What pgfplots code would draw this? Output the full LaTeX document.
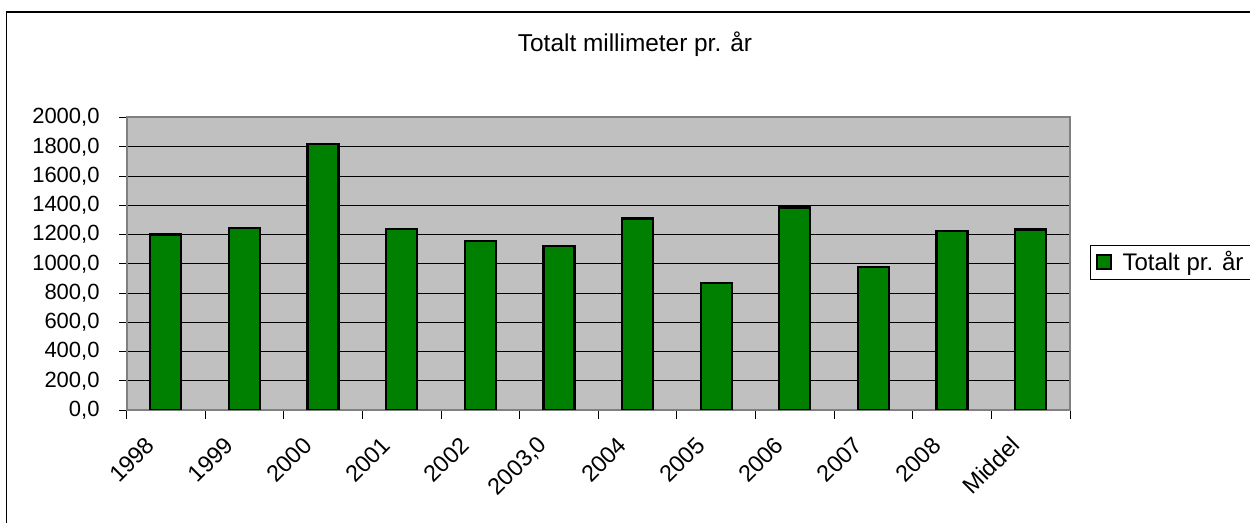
\documentclass[border=0pt]{standalone}
\usepackage{pgfplots}
\pgfplotsset{compat=1.18}
\usepackage{fontspec}
\setmainfont{Liberation Sans}
\definecolor{barg}{RGB}{0,128,0}
\definecolor{plotbg}{RGB}{192,192,192}
\definecolor{axgray}{RGB}{128,128,128}
\begin{document}
\begin{tikzpicture}
\useasboundingbox (0,0) rectangle (937.5pt,392.25pt);
\draw[line width=1pt,black] (4.875pt,383.25pt) rectangle (960pt,-20pt);
\node[anchor=base,font=\fontsize{18.3}{20}\selectfont,inner sep=0pt] at (476.25pt,353.5pt) {Totalt millimeter pr. år};
\begin{axis}[
  scale only axis,
  width=707.625pt, height=219.375pt,
  at={(94.875pt,84.75pt)}, anchor=south west,
  xmin=-0.5, xmax=11.5, ymin=0, ymax=2000,
  axis background/.style={fill=plotbg},
  axis line style={draw=axgray,line width=1.5pt},
  ytick={0,200,...,2000},
  xtick={0,...,11},
  xticklabels={1998,1999,2000,2001,2002,{2003,0},2004,2005,2006,2007,2008,Middel},
  minor xtick={-0.5,0.5,...,11.5},
  xtick pos=bottom, ytick pos=left,
  x tick style={draw=none},
  minor x tick style={draw=black,line width=0.6pt},
  y tick style={draw=black,line width=0.6pt},
  tick align=outside,
  major tick length=5.5pt,
  minor tick length=6.5pt,
  ymajorgrids,
  major grid style={black,line width=0.6pt},
  /pgf/number format/assume math mode=true,
  yticklabel={\pgfmathprintnumber[fixed,fixed zerofill,precision=1,use comma,1000 sep={}]{\tick}},
  yticklabel style={font=\fontsize{16.5}{18}\selectfont,anchor=east,inner sep=0pt,xshift=-14.5pt},
  xticklabel style={font=\fontsize{17.5}{19}\selectfont,xshift=-11.5pt,yshift=-17.75pt,rotate=45,anchor=east,inner sep=0pt},
  legend style={at={(1.0212,0.505)},anchor=west,draw=black,line width=0.6pt,
    font=\fontsize{18}{20}\selectfont,inner xsep=4pt,inner ysep=3pt,
    legend cell align=left},
  legend image code/.code={\draw[#1,line width=1.5pt] (0pt,-5.2pt) rectangle (10.5pt,5.2pt);\path (16.5pt,0pt);},
]
\addplot[ybar,bar width=23.25pt,fill=barg,draw=black,line width=1.7pt] coordinates {
(0,1200) (1,1242) (2,1817) (3,1240) (4,1158) (5,1123) (6,1310) (7,870) (8,1384) (9,977) (10,1224) (11,1235)};
\addlegendentry{Totalt pr. år}
\end{axis}
\end{tikzpicture}
\end{document}
